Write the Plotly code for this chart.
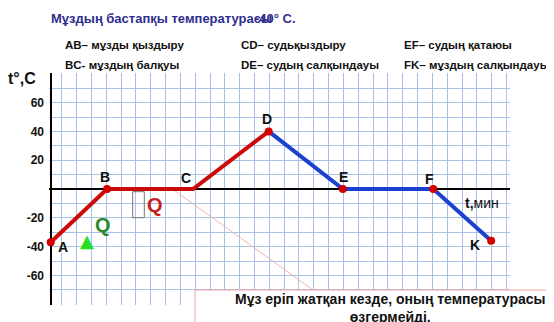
import plotly.graph_objects as go

# ---------------- data ----------------
point_names = ["A", "B", "C", "D", "E", "F", "K"]
time_min = [0.0, 3.8, 9.6, 14.7, 19.7, 25.8, 29.7]
temp_c = [-37, 0, 0, 40, 0, 0, -36]
heating_points = ["A", "B", "C", "D"]
cooling_points = ["D", "E", "F", "K"]
dot_points = ["A", "B", "D", "E", "F", "K"]

ytick_vals = [-60, -40, -20, 20, 40, 60]
ytick_text = ["-60", "-40", "-20", "20", "40", "60"]

legend_col1 = ["AB– мұзды қыздыру", "BC- мұздың балқуы"]
legend_col2 = ["CD– судьқыздыру", "DE– судың салқындауы"]
legend_col3 = ["EF– судың қатаюы", "FK– мұздың салқындауы"]
title_text = "Мұздың бастапқы температурасы"
title_value = "-40° C."
note_lines = ["Мұз еріп жатқан кезде, оның температурасы", "өзгермейді."]
y_title = "t°,C"
x_title_bold = "t,"
x_title_rest = "мин"

# ---------------- geometry (reference window pixels) ----------------
OFF = 8  # page body margin: figure is drawn 8px in from the window corner
W, H = 554 - OFF, 322 - OFF
PL, PR, PT, PB = 49, 510, 73, 305
AX0, AY0 = 50.7, 189.0
PXX, PXY = 14.83, 1.44
FONT = "Liberation Sans, Arial, sans-serif"


def dx(px):
    return (px - AX0) / PXX


def dy(py):
    return (AY0 - py) / PXY


def pxp(px):
    return (px - PL) / (PR - PL)


def pyp(py):
    return (PB - py) / (PB - PT)


idx = {n: i for i, n in enumerate(point_names)}

fig = go.Figure()

fig.add_trace(go.Scatter(
    x=[time_min[idx[n]] for n in heating_points],
    y=[temp_c[idx[n]] for n in heating_points],
    mode="lines", line=dict(color="#cc0a0a", width=4), hoverinfo="skip",
    cliponaxis=False))
fig.add_trace(go.Scatter(
    x=[time_min[idx[n]] for n in cooling_points],
    y=[temp_c[idx[n]] for n in cooling_points],
    mode="lines", line=dict(color="#1c40cf", width=4), hoverinfo="skip",
    cliponaxis=False))
fig.add_trace(go.Scatter(
    x=[time_min[idx[n]] for n in dot_points],
    y=[temp_c[idx[n]] for n in dot_points],
    mode="markers", marker=dict(color="#d40000", size=8), hoverinfo="skip",
    cliponaxis=False))

label_offsets = {"A": (12, 5), "B": (-2, -12), "C": (-7, -11), "D": (-2, -12),
                 "E": (1, -12), "F": (-4, -10), "K": (-16, 4)}

ann = []
for n in point_names:
    ox, oy = label_offsets[n]
    ann.append(dict(x=time_min[idx[n]], y=temp_c[idx[n]], xref="x", yref="y",
                    xanchor="center", yanchor="middle",
                    text="<b>%s</b>" % n, showarrow=False, xshift=ox, yshift=-oy,
                    font=dict(family=FONT, size=14, color="#111111")))


def text_at(px, py, text, size, color, anchor="center", family=FONT):
    ann.append(dict(x=pxp(px), y=pyp(py), xref="paper", yref="paper", xanchor=anchor,
                    yanchor="middle", text=text, showarrow=False, align="center",
                    font=dict(family=family, size=size, color=color)))


# header texts
text_at(49, 18, "<b>%s</b>" % title_text, 13, "#2e2e8f", "left")
text_at(298, 18, "<b>%s</b>" % title_value, 13, "#2e2e8f", "right")
for col_x, items in [(63, legend_col1), (239, legend_col2), (402, legend_col3)]:
    for row_y, t in zip([45, 65], items):
        text_at(col_x, row_y, "<b>%s</b>" % t, 11.5, "#111111", "left")

text_at(22, 78, "<b>%s</b>" % y_title, 16, "#111111")
text_at(482, 203, "<b>%s</b>%s" % (x_title_bold, x_title_rest), 14, "#111111")

# Q labels and triangle
text_at(103, 225, "<b>Q</b>", 20, "#2a8a2a")
text_at(155, 205, "<b>Q</b>", 20, "#c82020")
text_at(86.5, 240, "▲", 18, "#22e022", family="DejaVu Sans")

# axis arrows
ann.append(dict(x=0, y=dy(69), xref="x", yref="y", ax=0, ay=16, text="",
                showarrow=True, arrowhead=4, arrowsize=1.1, arrowwidth=2,
                arrowcolor="#000000"))
ann.append(dict(x=dx(511), y=0, xref="x", yref="y", ax=-16, ay=0, text="",
                showarrow=True, arrowhead=4, arrowsize=1.1, arrowwidth=2,
                arrowcolor="#000000"))

# note
text_at(390, 307.5, "<b>%s</b>" % "<br>".join(note_lines), 14, "#111111")

shapes = [
    dict(type="line", xref="x", yref="y", x0=dx(171), y0=dy(188), x1=dx(313), y1=dy(290),
         line=dict(color="#f2b4b4", width=1), layer="between"),
    dict(type="rect", xref="x", yref="y", x0=dx(132.7), y0=dy(191.7), x1=dx(144.3),
         y1=dy(217.7), line=dict(color="#777777", width=1), layer="above"),
    dict(type="rect", xref="paper", yref="paper", x0=pxp(195), y0=pyp(340), x1=pxp(570),
         y1=pyp(290), fillcolor="#ffffff", line=dict(color="#f0a4a4", width=1),
         layer="above"),
]

grid_y = list(range(-80, 81, 10))
label_map = dict(zip(ytick_vals, ytick_text))

fig.update_layout(
    width=W, height=H,
    margin=dict(l=PL - OFF, r=554 - PR, t=PT - OFF, b=322 - PB, pad=0),
    paper_bgcolor="#ffffff", plot_bgcolor="#ffffff",
    showlegend=False,
    annotations=ann, shapes=shapes,
    xaxis=dict(range=[dx(PL), dx(PR)], tick0=dx(61.7), dtick=1, showticklabels=False,
               ticks="", showgrid=True, gridcolor="#a9c1e6", gridwidth=1,
               zeroline=True, zerolinecolor="#000000", zerolinewidth=2,
               showline=False, fixedrange=True, automargin=False),
    yaxis=dict(range=[dy(PB), dy(PT)], tickmode="array", tickvals=grid_y,
               ticktext=[label_map.get(v, "") for v in grid_y],
               tickfont=dict(family=FONT, size=12, color="#111111", weight="bold"),
               ticks="", ticklabelstandoff=4, showgrid=True, gridcolor="#a9c1e6",
               gridwidth=1, zeroline=True, zerolinecolor="#000000", zerolinewidth=2,
               showline=False, fixedrange=True, automargin=False),
)

fig.write_html("out.html")
